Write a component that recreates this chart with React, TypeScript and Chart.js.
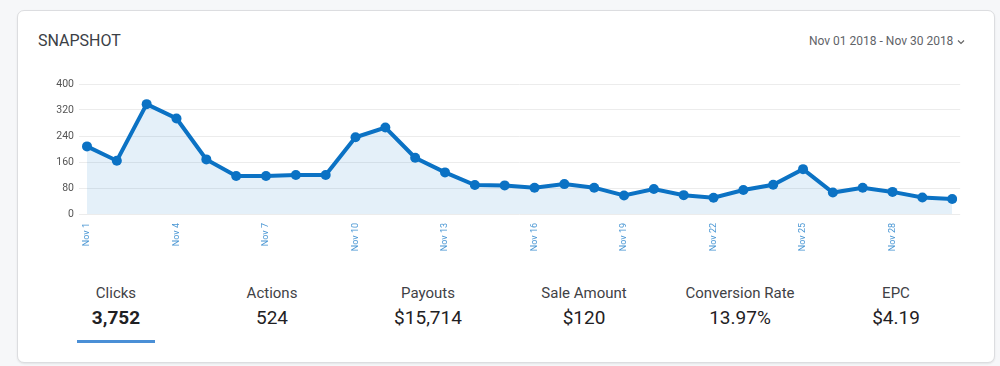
import React, { useEffect, useRef } from "react";
import { Chart, registerables } from "chart.js";

Chart.register(...registerables);

const days: string[] = [
  "Nov 1", "Nov 2", "Nov 3", "Nov 4", "Nov 5", "Nov 6", "Nov 7", "Nov 8", "Nov 9", "Nov 10",
  "Nov 11", "Nov 12", "Nov 13", "Nov 14", "Nov 15", "Nov 16", "Nov 17", "Nov 18", "Nov 19", "Nov 20",
  "Nov 21", "Nov 22", "Nov 23", "Nov 24", "Nov 25", "Nov 26", "Nov 27", "Nov 28", "Nov 29", "Nov 30",
];

const clicks: number[] = [
  208, 164, 338, 294, 168, 117, 117, 120, 120, 236,
  266, 173, 128, 89, 88, 81, 92, 81, 57, 77,
  58, 50, 74, 90, 138, 66, 81, 68, 51, 46,
];

const yMin = 0;
const yMax = 400;
const yStep = 80;

const statLabels: string[] = ["Clicks", "Actions", "Payouts", "Sale Amount", "Conversion Rate", "EPC"];
const statValues: string[] = ["3,752", "524", "$15,714", "$120", "13.97%", "$4.19"];

const title = "SNAPSHOT";
const dateRange = "Nov 01 2018 - Nov 30 2018";

const LINE = "#0b72c4";
const FONT = "Roboto, 'Noto Sans', sans-serif";

function SnapshotChart() {
  const ref = useRef<HTMLCanvasElement | null>(null);
  useEffect(() => {
    if (!ref.current) return;
    const chart = new Chart(ref.current, {
      type: "line",
      data: {
        labels: days,
        datasets: [
          {
            data: clicks,
            borderColor: LINE,
            backgroundColor: "rgba(11,114,196,0.11)",
            fill: "origin",
            borderWidth: 4,
            tension: 0,
            pointRadius: 5,
            pointBorderWidth: 0,
            pointBackgroundColor: LINE,
            pointBorderColor: LINE,
            yAxisID: "y",
          },
        ],
      },
      options: {
        responsive: false,
        animation: false,
        layout: { padding: { top: 14, left: 0, right: 0, bottom: 0 } },
        plugins: { legend: { display: false }, tooltip: { enabled: false } },
        scales: {
          x: {
            grid: { display: false, drawTicks: false },
            border: { display: false },
            ticks: {
              autoSkip: false,
              maxRotation: 90,
              minRotation: 90,
              padding: 9,
              color: "#4a97d4",
              font: { family: FONT, size: 9 },
              callback: (_v: any, i: number) => (i % 3 === 0 ? days[i] : ""),
            },
            afterFit: (s: any) => {
              s.height = 46;
            },
          },
          y: {
            position: "left",
            min: yMin,
            max: yMax,
            border: { display: false },
            grid: { color: "#ececec", tickLength: 8, drawTicks: true },
            ticks: {
              stepSize: yStep,
              padding: 5,
              color: "#555",
              font: { family: FONT, size: 10.5 },
            },
            afterFit: (s: any) => {
              s.width = 47;
            },
          },
          y2: {
            position: "right",
            min: yMin,
            max: yMax,
            border: { display: false },
            grid: { color: "#ececec", tickLength: 8, drawTicks: true, drawOnChartArea: false },
            ticks: { stepSize: yStep, display: false },
            afterFit: (s: any) => {
              s.width = 8;
            },
          },
        },
      },
    });
    return () => chart.destroy();
  }, []);
  return <canvas ref={ref} width={932} height={190} style={{ position: "absolute", left: 40, top: 70, width: 932, height: 190 }} />;
}

export default function App() {
  return (
    <div
      style={{
        position: "absolute",
        left: 0,
        top: 0,
        width: 1000,
        height: 366,
        background: "#f6f7f9",
        fontFamily: FONT,
        overflow: "hidden",
      }}
    >
      <div
        style={{
          position: "absolute",
          left: 17,
          top: 10,
          width: 978,
          height: 353,
          boxSizing: "border-box",
          background: "#fff",
          border: "1px solid #dcdde0",
          borderRadius: 7,
          boxShadow: "0 1px 2px rgba(0,0,0,0.08)",
        }}
      />
      <div style={{ position: "absolute", left: 38, top: 31, fontSize: 16, lineHeight: "20px", color: "#3b4046" }}>{title}</div>
      <div style={{ position: "absolute", left: 809, top: 33, fontSize: 12, lineHeight: "16px", color: "#5f6368", whiteSpace: "nowrap" }}>
        {dateRange}
        <svg width="8" height="6" viewBox="0 0 8 6" style={{ marginLeft: 4, verticalAlign: "middle" }}>
          <path d="M1 1.5 L4 4.5 L7 1.5" stroke="#666" strokeWidth="1.2" fill="none" />
        </svg>
      </div>
      <SnapshotChart />
      {statLabels.map((l, i) => (
        <div
          key={l}
          style={{
            position: "absolute",
            left: 38 + i * 156,
            width: 156,
            top: 283,
            textAlign: "center",
          }}
        >
          <div style={{ fontSize: 15, lineHeight: "20px", color: "#3f4246" }}>{l}</div>
          <div
            style={{
              fontSize: 19,
              lineHeight: "24px",
              marginTop: 3,
              color: "#1f2124",
              fontWeight: i === 0 ? 700 : 400,
            }}
          >
            {statValues[i]}
          </div>
        </div>
      ))}
      <div style={{ position: "absolute", left: 77, top: 340, width: 78, height: 3, background: "#4a8fd6" }} />
    </div>
  );
}
